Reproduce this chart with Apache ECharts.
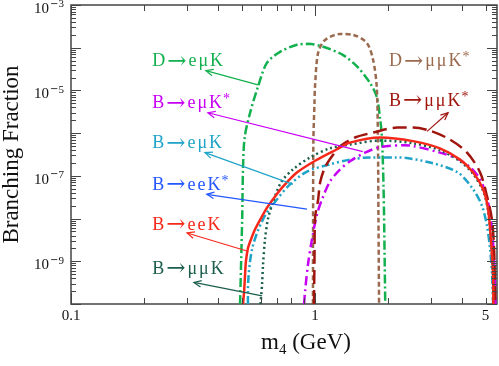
<!DOCTYPE html>
<html>
<head>
<meta charset="utf-8">
<script src="https://cdn.jsdelivr.net/npm/echarts@6/dist/echarts.min.js"></script>
<style>
  html, body { margin: 0; padding: 0; background: #fff; }
  #chart { width: 499px; height: 366px; }
</style>
</head>
<body>
<div id="chart"></div>
<script>
// axis range
const xMin = 0.1, xMax = 5.57
const yMin = 1e-10, yMax = 1e-3

// tick positions
const xMajorTicks = [0.1, 1]
const xMinorTicks = [0.2, 0.3, 0.4, 0.5, 0.6, 0.7, 0.8, 0.9, 2, 3, 4, 5]
const xTickLabels = ['0.1', '1', '5']
const xTickLabelValues = [0.1, 1, 5]
const yMajorTicks = [1e-10, 1e-9, 1e-8, 1e-7, 1e-6, 1e-5, 1e-4, 1e-3]
const yMinorSteps = [2, 3, 4, 5, 6, 7, 8, 9]

// curves: [m4 (GeV), branching fraction]
const D_emuK = [[0.493,1e-10],[0.498,1e-9],[0.503,1e-8],[0.507,1.5e-7],[0.515,8e-7],[0.542,3.0e-6],[0.584,1.23e-5],[0.635,4.4e-5],[0.719,8.0e-5],[0.843,1.17e-4],[0.936,1.23e-4],[1.08,1.05e-4],[1.30,6.8e-5],[1.49,3.6e-5],[1.68,1.5e-5],[1.79,7.1e-6],[1.85,2.1e-6],[1.88,8.3e-7],[1.91,5e-8],[1.93,1e-9],[1.94,1e-10]]
const D_mumuKs = [[0.981,1e-10],[0.982,1e-8],[0.985,7e-7],[0.995,5e-6],[1.0,1.23e-5],[1.03,7.6e-5],[1.10,1.52e-4],[1.27,2.1e-4],[1.43,2.0e-4],[1.63,1.3e-4],[1.73,5.2e-5],[1.79,1.23e-5],[1.81,8.3e-7],[1.82,1e-8],[1.83,1e-10]]
const B_eeK = [[0.507,1e-10],[0.512,1.9e-10],[0.517,5e-10],[0.521,1e-9],[0.531,2e-9],[0.547,3.3e-9],[0.568,5.6e-9],[0.597,9.6e-9],[0.636,1.8e-8],[0.686,3.3e-8],[0.739,5.6e-8],[0.843,1.2e-7],[1.02,2.4e-7],[1.23,4.2e-7],[1.39,6.0e-7],[1.85,7.9e-7],[2.52,6.5e-7],[3.25,4.4e-7],[3.93,2.4e-7],[4.45,1.2e-7],[4.89,4.8e-8],[5.12,1.66e-8],[5.27,2.8e-9],[5.37,4.5e-10],[5.38,1e-10]]
const B_mumuK = [[0.598,1e-10],[0.607,3e-10],[0.612,7.8e-10],[0.624,3.3e-9],[0.641,9.6e-9],[0.667,2.1e-8],[0.726,7.1e-8],[0.812,1.41e-7],[0.954,2.7e-7],[1.15,4.4e-7],[1.39,5.4e-7],[1.85,6.7e-7],[2.52,5.8e-7],[3.25,4.0e-7],[3.93,2.2e-7],[4.45,1.1e-7],[4.89,4.4e-8],[5.12,1.5e-8],[5.27,2.5e-9],[5.36,4e-10],[5.37,1e-10]]
const B_emuK = [[0.531,1e-10],[0.531,1.9e-10],[0.552,1.9e-9],[0.612,9.6e-9],[0.698,2.8e-8],[0.79,6.3e-8],[0.927,1.26e-7],[1.15,1.86e-7],[1.39,2.4e-7],[1.68,2.7e-7],[2.17,2.7e-7],[2.96,2.05e-7],[3.85,1.2e-7],[4.45,4.8e-8],[4.84,1.95e-8],[5.07,6.6e-9],[5.22,1.9e-9],[5.32,4.5e-10],[5.37,1e-10]]
const B_emuKs = [[0.902,1e-10],[0.910,1.9e-10],[0.936,8.5e-10],[0.972,3.3e-9],[1.019,1.26e-8],[1.068,2.8e-8],[1.152,7.4e-8],[1.265,1.4e-7],[1.391,2.2e-7],[1.603,3.5e-7],[1.847,4.7e-7],[2.3,5.2e-7],[2.52,5.0e-7],[3.25,3.5e-7],[3.85,2.5e-7],[4.32,1.6e-7],[4.75,8.3e-8],[5.12,2.4e-8],[5.31,5.6e-9],[5.42,1.12e-9],[5.47,2.2e-10],[5.48,1e-10]]
const B_mumuKs = [[0.99,1e-10],[0.995,1e-9],[1.0,1e-8],[1.03,2.8e-8],[1.05,7.1e-8],[1.10,1.6e-7],[1.19,3.2e-7],[1.265,4.9e-7],[1.46,7.9e-7],[1.73,1.03e-6],[2.17,1.35e-6],[2.52,1.35e-6],[2.96,1.14e-6],[3.57,7.1e-7],[4.20,3.5e-7],[4.75,1.2e-7],[5.07,3.3e-8],[5.31,9.6e-9],[5.42,1.9e-9],[5.47,1.9e-10],[5.48,1e-10]]

const serif = '"Liberation Serif", "DejaVu Serif", serif'
const axisColor = '#444'

const C = {
  green: '#12b04e',
  brown: '#9a6a4e',
  red: '#f5281a',
  dkgreen: '#1a5e4c',
  cyan: '#1fa4c8',
  blue: '#2457ff',
  magenta: '#c700f5',
  dkred: '#a0160f'
}

const curves = [
  { name: 'D→eμK', data: D_emuK, color: C.green, dash: [9, 3, 2, 3], width: 2.5 },
  { name: 'D→μμK*', data: D_mumuKs, color: C.brown, dash: [5, 3], width: 2.5 },
  { name: 'B→eμK', data: B_emuK, color: C.cyan, dash: [8, 3, 2, 3, 2, 3], width: 2.5 },
  { name: 'B→eμK*', data: B_emuKs, color: C.magenta, dash: [9, 4, 2, 4], width: 2.5 },
  { name: 'B→μμK*', data: B_mumuKs, color: C.dkred, dash: [14, 6], width: 2.5 },
  { name: 'B→μμK', data: B_mumuK, color: C.dkgreen, dash: [2, 3], width: 2.5 },
  { name: 'B→eeK', data: B_eeK, color: C.red, dash: 'solid', width: 2.5 }
]

// labels with arrows (text anchor, arrow tail on curve, arrow head near text)
const notes = [
  { text: 'D→eμK', color: C.green, at: [0.213, 4.7e-5], from: [0.584, 1.35e-5], to: [0.357, 2.9e-5] },
  { text: 'B→eμK*', color: C.magenta, at: [0.213, 4.9e-6], from: [1.57, 3.7e-7], to: [0.364, 3.0e-6] },
  { text: 'B→eμK', color: C.cyan, at: [0.213, 5.7e-7], from: [0.812, 6.3e-8], to: [0.354, 3.5e-7] },
  { text: 'B→eeK*', color: C.blue, at: [0.213, 6.0e-8], from: [0.927, 1.66e-8], to: [0.360, 3.7e-8] },
  { text: 'B→eeK', color: C.red, at: [0.213, 6.9e-9], from: [0.526, 1.74e-9], to: [0.299, 4.6e-9] },
  { text: 'B→μμK', color: C.dkgreen, at: [0.213, 6.6e-10], from: [0.607, 1.55e-10], to: [0.319, 3.2e-10] },
  { text: 'D→μμK*', color: C.brown, at: [1.99, 4.7e-5] },
  { text: 'B→μμK*', color: C.dkred, at: [1.99, 5.5e-6], from: [2.88, 1.1e-6], to: [3.51, 3.0e-6] }
]

// letters spaced out, long arrow, small raised star, like the original typesetting
function spaced(str) {
  return Array.from(str).map(ch => {
    if (ch === '→') return '{a|→}'
    if (ch === '*') return '{st|*}'
    return '{c|' + ch + '}'
  }).join('')
}
const noteRich = {
  c: { fontFamily: serif, fontSize: 18, padding: [0, 1, 0, 1] },
  st: { fontFamily: serif, fontSize: 14, verticalAlign: 'top', lineHeight: 18 },
  a: { fontFamily: '"DejaVu Serif"', fontSize: 23, padding: [0, 1, 0, 1] }
}

function overlay(params, api) {
  const kids = []
  const lt = api.coord([xMin, yMax])
  const rb = api.coord([xMax, yMin])
  const left = lt[0], top = lt[1], right = rb[0], bottom = rb[1]
  const seg = (x1, y1, x2, y2, stroke, w) => kids.push({
    type: 'line', shape: { x1, y1, x2, y2 }, style: { stroke, lineWidth: w }
  })

  const xTick = (v, len) => {
    const x = Math.round(api.coord([v, yMin])[0]) + 0.5
    seg(x, bottom, x, bottom - len, axisColor, 1)
    seg(x, top, x, top + len, axisColor, 1)
  }
  const yTick = (v, len) => {
    const y = Math.round(api.coord([xMin, v])[1]) + 0.5
    seg(left, y, left + len, y, axisColor, 1)
    seg(right, y, right - len, y, axisColor, 1)
  }
  xMajorTicks.forEach(v => xTick(v, 11))
  xMinorTicks.forEach(v => xTick(v, 6))
  yMajorTicks.forEach(v => yTick(v, 10))
  yMajorTicks.slice(0, -1).forEach(d => yMinorSteps.forEach(k => yTick(d * k, 5)))

  // x tick labels
  xTickLabelValues.forEach((v, i) => {
    const p = api.coord([v, yMin])
    kids.push({ type: 'text', style: {
      text: xTickLabels[i], x: p[0], y: p[1] + 5, fill: '#111',
      font: '15px ' + serif, align: 'center', verticalAlign: 'top'
    } })
  })

  // annotations
  notes.forEach(n => {
    const p = api.coord(n.at)
    kids.push({ type: 'text', style: {
      text: spaced(n.text), rich: noteRich, x: p[0], y: p[1], fill: n.color,
      font: '18px ' + serif, align: 'left', verticalAlign: 'middle'
    } })
    if (n.from) {
      const a = api.coord(n.from), b = api.coord(n.to)
      seg(a[0], a[1], b[0], b[1], n.color, 1.2)
      const ang = Math.atan2(a[1] - b[1], a[0] - b[0])
      const L = 8, spread = 0.42
      kids.push({ type: 'polyline', shape: { points: [
        [b[0] + L * Math.cos(ang + spread), b[1] + L * Math.sin(ang + spread)],
        [b[0], b[1]],
        [b[0] + L * Math.cos(ang - spread), b[1] + L * Math.sin(ang - spread)]
      ] }, style: { stroke: n.color, fill: null, lineWidth: 1.2 } })
    }
  })
  return { type: 'group', children: kids }
}

const chart = echarts.init(document.getElementById('chart'))

const lineSeries = curves.map(c => ({
  name: c.name,
  type: 'line',
  data: c.data,
  showSymbol: false,
  smooth: 0.3,
  clip: true,
  silent: true,
  lineStyle: { color: c.color, width: c.width, type: c.dash },
  z: 3
}))

chart.setOption({
  animation: false,
  grid: {
    left: 71, right: 2, top: 5, bottom: 62,
    show: true, borderColor: axisColor, borderWidth: 1.5,
    outerBoundsMode: 'none'
  },
  xAxis: {
    type: 'log', logBase: 10, min: xMin, max: xMax,
    axisLine: { show: false }, axisTick: { show: false }, splitLine: { show: false },
    axisLabel: { show: false },
    name: '{m|m}{s|4}{m| (GeV)}',
    nameLocation: 'middle', nameGap: 24,
    nameTextStyle: {
      padding: [0, 0, 0, 44],
      rich: {
        m: { fontFamily: serif, fontSize: 23, color: '#111', lineHeight: 30, verticalAlign: 'middle' },
        s: { fontFamily: serif, fontSize: 15, color: '#111', lineHeight: 30, verticalAlign: 'bottom' }
      }
    }
  },
  yAxis: {
    type: 'log', logBase: 10, min: yMin, max: yMax,
    axisLine: { show: false }, axisTick: { show: false }, splitLine: { show: false },
    axisLabel: {
      margin: 7,
      padding: [8, 0, 0, 0],
      formatter: v => {
        const e = Math.round(Math.log10(v))
        return e % 2 !== 0 ? '{b|10}{m|−}{s|' + (-e) + '}' : ''
      },
      rich: {
        b: { fontFamily: serif, fontSize: 15, color: '#111', lineHeight: 20, verticalAlign: 'middle' },
        m: { fontFamily: '"DejaVu Sans"', fontSize: 10, color: '#111', lineHeight: 12, verticalAlign: 'top', padding: [0, 0, 0, 1] },
        s: { fontFamily: serif, fontSize: 11, color: '#111', lineHeight: 12, verticalAlign: 'top' }
      }
    },
    name: 'Branching Fraction',
    nameLocation: 'middle', nameGap: 46, nameRotate: 90,
    nameTextStyle: { fontFamily: serif, fontSize: 23, color: '#111' }
  },
  series: lineSeries.concat([{
    type: 'custom',
    data: [[1, 1e-6]],
    renderItem: overlay,
    clip: false,
    silent: true,
    z: 5
  }])
})
</script>
</body>
</html>
